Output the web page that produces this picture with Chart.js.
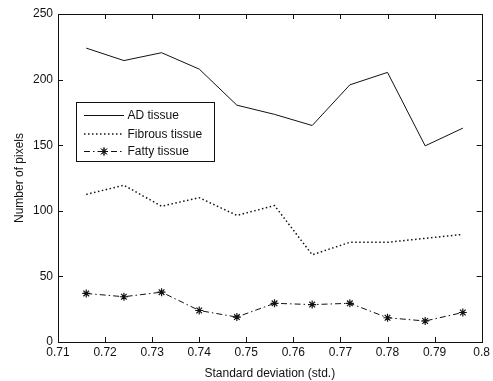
<!DOCTYPE html>
<html>
<head>
<meta charset="utf-8">
<script src="https://cdn.jsdelivr.net/npm/chart.js@4"></script>
<style>
  html, body { margin: 0; padding: 0; background: #fff; }
  canvas { display: block; }
</style>
</head>
<body>
<canvas id="chart" width="493" height="381"></canvas>
<script>
// Standard deviation of each sample window
const stdValues = [0.716, 0.724, 0.732, 0.740, 0.748, 0.756, 0.764, 0.772, 0.780, 0.788, 0.796];
// Pixel counts per tissue class
const adTissue = [224, 214.5, 220.5, 208, 180.5, 173.5, 165, 196, 205.5, 149.5, 163];
const fibrousTissue = [112.5, 119.5, 103.5, 110, 96.5, 104, 66.5, 76, 76, 79, 82];
const fattyTissue = [37, 34.5, 38, 24, 19, 29.5, 28.5, 29.5, 18.5, 16, 22.5];
const seriesNames = ['AD tissue', 'Fibrous tissue', 'Fatty tissue'];
const xTitle = 'Standard deviation (std.)';
const yTitle = 'Number of pixels';

const FONT = "'Liberation Sans', Arial, sans-serif";
const INK = '#111';

const toPoints = ys => ys.map((y, i) => ({ x: stdValues[i], y }));

const styles = [
  { borderDash: [], width: 1, pointStyle: false, radius: 0 },
  { borderDash: [1.5, 2.5], width: 1.5, pointStyle: false, radius: 0 },
  { borderDash: [6, 3, 1.5, 3], width: 1, pointStyle: 'star', radius: 4 }
];

const datasets = [adTissue, fibrousTissue, fattyTissue].map((vals, i) => ({
  label: seriesNames[i],
  data: toPoints(vals),
  borderColor: INK,
  backgroundColor: INK,
  borderWidth: styles[i].width,
  borderDash: styles[i].borderDash,
  pointStyle: styles[i].pointStyle,
  pointRadius: styles[i].radius,
  pointBorderWidth: 1.2,
  pointBorderColor: INK,
  tension: 0,
  fill: false
}));

// Axes box with inward ticks on all four sides
const frameTicks = {
  id: 'frameTicks',
  afterDatasetsDraw(chart) {
    const { ctx, chartArea: a, scales: { x, y } } = chart;
    const len = 5;
    ctx.save();
    ctx.strokeStyle = INK;
    ctx.lineWidth = 1;
    ctx.setLineDash([]);
    ctx.beginPath();
    x.ticks.forEach(t => {
      const px = Math.round(x.getPixelForValue(t.value)) + 0.5;
      ctx.moveTo(px, a.bottom); ctx.lineTo(px, a.bottom - len);
      ctx.moveTo(px, a.top); ctx.lineTo(px, a.top + len);
    });
    y.ticks.forEach(t => {
      const py = Math.round(y.getPixelForValue(t.value)) + 0.5;
      ctx.moveTo(a.left, py); ctx.lineTo(a.left + len, py);
      ctx.moveTo(a.right, py); ctx.lineTo(a.right - len, py);
    });
    ctx.stroke();
    ctx.strokeRect(Math.round(a.left) + 0.5, Math.round(a.top) + 0.5,
                   Math.round(a.right - a.left), Math.round(a.bottom - a.top));
    ctx.restore();
  }
};

// Boxed legend inside the plot area
const boxLegend = {
  id: 'boxLegend',
  afterDraw(chart) {
    const { ctx } = chart;
    const bx = 76.5, by = 102.5, bw = 138, bh = 59;
    const rows = [115, 133.5, 151];
    ctx.save();
    ctx.fillStyle = '#fff';
    ctx.fillRect(bx, by, bw, bh);
    ctx.strokeStyle = INK;
    ctx.lineWidth = 1;
    ctx.setLineDash([]);
    ctx.strokeRect(bx, by, bw, bh);
    ctx.font = '12px ' + FONT;
    ctx.textBaseline = 'middle';
    chart.data.datasets.forEach((ds, i) => {
      const yy = rows[i] + 0.5;
      ctx.strokeStyle = INK;
      ctx.lineWidth = ds.borderWidth;
      ctx.setLineDash(ds.borderDash);
      ctx.beginPath();
      ctx.moveTo(84, yy); ctx.lineTo(124, yy);
      ctx.stroke();
      ctx.setLineDash([]);
      if (ds.pointStyle) {
        Chart.helpers.drawPoint(ctx, { pointStyle: ds.pointStyle, radius: ds.pointRadius, borderWidth: 1.2 }, 104, yy);
        ctx.stroke();
      }
      ctx.fillStyle = INK;
      ctx.fillText(ds.label, 127.5, rows[i] + 1);
    });
    ctx.restore();
  }
};

new Chart(document.getElementById('chart'), {
  type: 'line',
  data: { datasets },
  options: {
    responsive: false,
    animation: false,
    layout: { padding: { top: 14, right: 9, left: 0, bottom: 0 } },
    plugins: { legend: { display: false }, tooltip: { enabled: false } },
    scales: {
      x: {
        type: 'linear',
        min: 0.71,
        max: 0.8,
        grid: { display: false, drawTicks: false },
        border: { display: false },
        ticks: {
          stepSize: 0.01,
          padding: 3,
          color: INK,
          font: { family: FONT, size: 12 },
          maxRotation: 0,
          callback: v => String(Number(v.toFixed(2)))
        },
        title: { display: true, text: xTitle, color: INK, font: { family: FONT, size: 12 }, padding: { top: 13, bottom: 0 } },
        afterFit: s => { s.height = 39; }
      },
      y: {
        min: 0,
        max: 250,
        grid: { display: false, drawTicks: false },
        border: { display: false },
        ticks: {
          stepSize: 50,
          padding: 5,
          color: INK,
          font: { family: FONT, size: 12 }
        },
        title: { display: true, text: yTitle, color: INK, font: { family: FONT, size: 12 }, padding: { top: 12, bottom: 0 } },
        afterFit: s => { s.width = 58; }
      }
    }
  },
  plugins: [frameTicks, boxLegend]
});
</script>
</body>
</html>
